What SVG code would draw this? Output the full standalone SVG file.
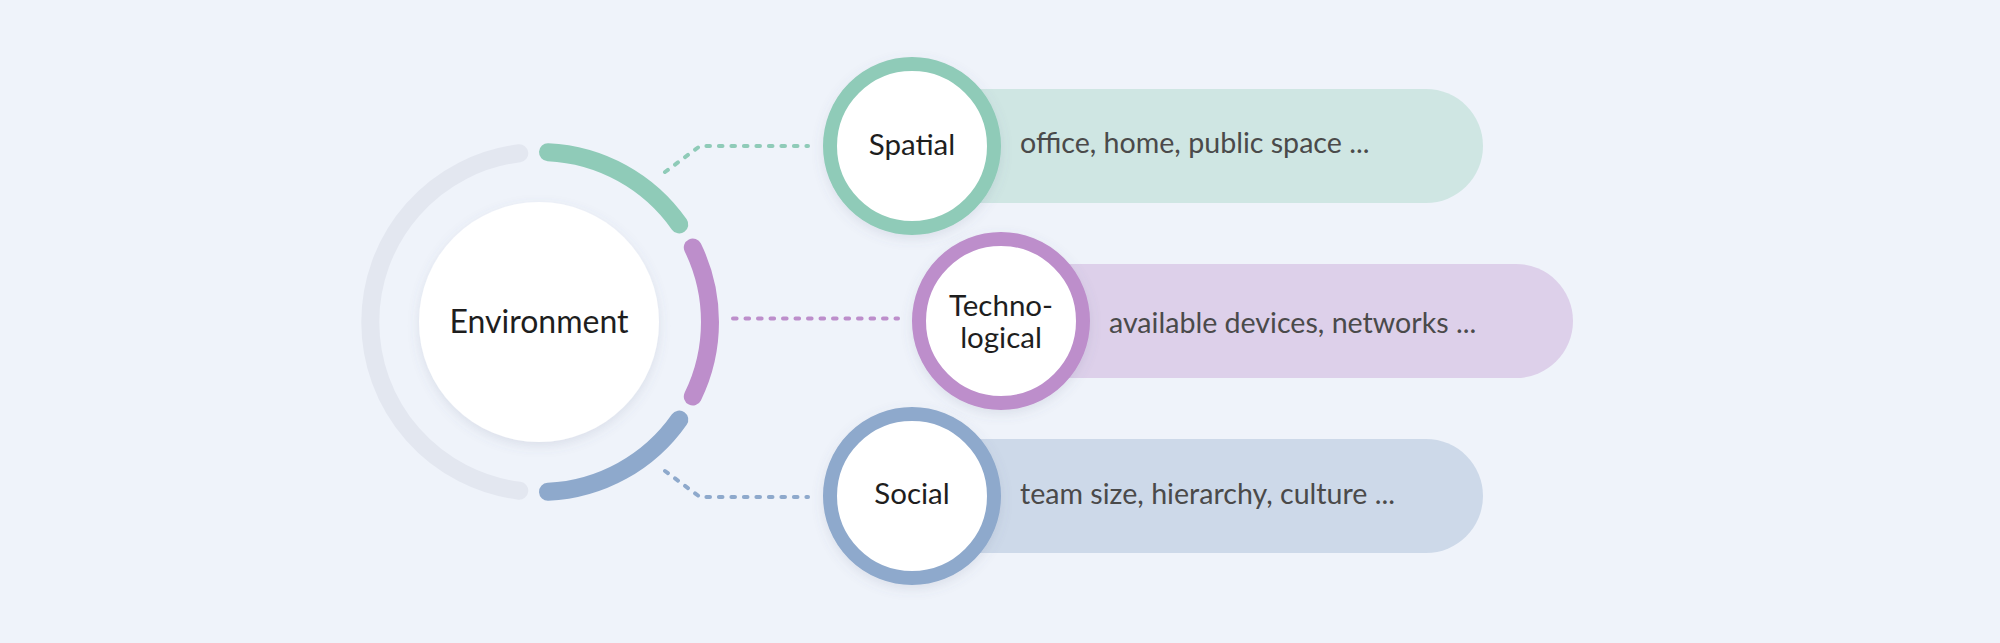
<svg xmlns="http://www.w3.org/2000/svg" width="2000" height="643" viewBox="0 0 2000 643">
  <defs>
    <filter id="shadow" x="-30%" y="-30%" width="160%" height="160%">
      <feDropShadow dx="0" dy="4" stdDeviation="6" flood-color="#5a6a8a" flood-opacity="0.14"/>
    </filter>
    <style>
      .arc { fill: none; stroke-width: 18; stroke-linecap: round; }
      .dash { fill: none; stroke-width: 4; stroke-linecap: round; stroke-dasharray: 3.6 8.9; }
      .ring { fill: #ffffff; stroke-width: 14; }
      .lbl { font-family: Lato, "Liberation Sans", sans-serif; font-size: 29.5px; fill: #1e1e1e; text-anchor: middle; }
      .desc { font-family: Lato, "Liberation Sans", sans-serif; font-size: 28.6px; fill: #4a4a4a; }
    </style>
  </defs>
  <rect width="2000" height="643" fill="#eff3fa"/>

  <g id="environment">
    <path class="arc" stroke="#e3e7f0" d="M 519.3 490.7 A 170 170 0 0 1 519.3 153.3"/>
    <path class="arc" stroke="#8fcbb8" d="M 548 152.2 A 170 170 0 0 1 679.3 224.5"/>
    <path class="arc" stroke="#bd8ecb" d="M 692.8 247.5 A 170 170 0 0 1 692.8 396.5"/>
    <path class="arc" stroke="#8ea9cc" d="M 679.3 419.5 A 170 170 0 0 1 548 491.8"/>
    <circle cx="539" cy="322" r="120" fill="#ffffff" filter="url(#shadow)"/>
    <text x="539" y="333" font-family="Lato, 'Liberation Sans', sans-serif" font-size="32" fill="#1e1e1e" text-anchor="middle">Environment</text>
  </g>

  <g id="connectors">
    <polyline class="dash" stroke="#8fcbb8" points="665,172 700,146 808,146"/>
    <line class="dash" stroke="#bd8ecb" x1="733" y1="318.5" x2="898" y2="318.5"/>
    <polyline class="dash" stroke="#8ea9cc" points="665,471 700,497 808,497"/>
  </g>

  <g id="spatial">
    <rect x="912" y="89" width="571" height="114" rx="57" fill="#cfe6e3"/>
    <circle class="ring" cx="912" cy="146" r="82" stroke="#8fcbb8" filter="url(#shadow)"/>
    <text class="lbl" x="912" y="155">Spatial</text>
    <text class="desc" x="1020" y="153">office, home, public space ...</text>
  </g>

  <g id="technological">
    <rect x="1001" y="264" width="572" height="114" rx="57" fill="#ddd0ea"/>
    <circle class="ring" cx="1001" cy="321" r="82" stroke="#bd8ecb" filter="url(#shadow)"/>
    <text class="lbl" x="1001" y="316">Techno-</text>
    <text class="lbl" x="1001" y="348">logical</text>
    <text class="desc" x="1109" y="333">available devices, networks ...</text>
  </g>

  <g id="social">
    <rect x="912" y="439" width="571" height="114" rx="57" fill="#cdd9e9"/>
    <circle class="ring" cx="912" cy="496" r="82" stroke="#8ea9cc" filter="url(#shadow)"/>
    <text class="lbl" x="912" y="504">Social</text>
    <text class="desc" x="1020" y="504">team size, hierarchy, culture ...</text>
  </g>
</svg>
